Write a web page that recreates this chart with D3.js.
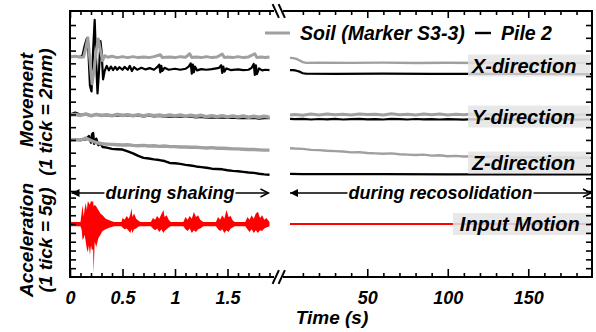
<!DOCTYPE html>
<html>
<head>
<meta charset="utf-8">
<script src="https://cdn.jsdelivr.net/npm/d3@7"></script>
<style>
  html, body { margin: 0; padding: 0; background: #fff; }
  svg { display: block; font-family: "Liberation Sans", Arial, sans-serif; font-weight: bold; font-style: italic; }
</style>
</head>
<body>
<svg id="chart" width="596" height="332"></svg>
<script>
// ---- data (movement in mm, acceleration in g, time in s) ----
// shaking phase, regular 0.05 s grid
var shakeT = [0,0.05,0.1,0.15,0.2,0.25,0.3,0.35,0.4,0.45,0.5,0.55,0.6,0.65,0.7,0.75,0.8,0.85,0.9,0.95,
  1,1.05,1.1,1.15,1.2,1.25,1.3,1.35,1.4,1.45,1.5,1.55,1.6,1.65,1.7,1.75,1.8,1.85,1.9];
var ySoilShake = [11.9,12.0,11.85,12.05,11.8,12.0,11.85,11.95,11.8,12.0,11.85,11.95,11.8,11.95,11.75,11.95,11.8,11.9,11.75,11.9,
  11.75,11.9,11.7,11.85,11.7,11.85,11.65,11.8,11.65,11.8,11.6,11.75,11.6,11.75,11.55,11.7,11.55,11.7,11.55];
var yPileShake = [12.0,12.3,11.95,12.0,11.85,11.95,11.8,11.9,11.8,11.85,11.75,11.85,11.75,11.8,11.7,11.8,11.7,11.75,11.65,11.7,
  11.6,11.7,11.6,11.65,11.55,11.6,11.5,11.55,11.5,11.5,11.45,11.5,11.4,11.45,11.4,11.45,11.35,11.4,11.4];
var zSoilShake = [8.0,8.05,7.95,8.3,7.9,7.6,7.4,7.35,7.3,7.25,7.2,7.25,7.15,7.1,7.15,7.05,7.1,7.0,7.05,6.95,
  6.95,6.9,6.9,6.85,6.85,6.8,6.75,6.8,6.7,6.7,6.65,6.6,6.6,6.55,6.5,6.5,6.45,6.4,6.4];

// bursty traces as [t, value]
var xSoilShake = [[0,21.0],[0.05,21.1],[0.1,20.95],[0.13,21.0],[0.15,22.4],[0.17,24.0],[0.19,20.5],[0.21,16.8],
  [0.23,19.0],[0.25,22.0],[0.27,23.8],[0.29,22.0],[0.31,20.4],[0.33,21.2],[0.36,20.95],[0.4,21.1],[0.45,20.9],
  [0.5,21.05],[0.55,20.9],[0.6,21.05],[0.65,20.9],[0.7,21.0],[0.75,20.9],[0.8,21.05],[0.86,21.35],[0.88,20.9],
  [0.95,21.0],[1.0,20.9],[1.05,21.05],[1.1,20.95],[1.14,21.5],[1.16,20.9],[1.2,21.0],[1.25,20.9],[1.3,21.05],
  [1.35,20.9],[1.4,21.0],[1.45,21.45],[1.47,20.9],[1.5,21.0],[1.55,20.9],[1.6,21.05],[1.65,20.9],[1.7,21.0],
  [1.76,21.5],[1.78,20.9],[1.82,21.0],[1.86,20.9],[1.9,21.0]];
var xPileShake = [[0,21.0],[0.1,21.0],[0.12,21.3],[0.14,22.8],[0.16,23.9],[0.175,22.0],[0.19,16.5],[0.205,15.6],
  [0.22,22.0],[0.235,26.8],[0.25,20.0],[0.262,15.3],[0.275,18.5],[0.29,23.5],[0.30,22.0],[0.315,17.5],[0.33,18.8],
  [0.35,19.6],[0.37,18.9],[0.39,19.5],[0.41,18.95],[0.43,19.45],[0.45,19.0],[0.47,19.4],[0.5,19.0],[0.52,19.45],
  [0.55,19.0],[0.57,19.6],[0.59,18.8],[0.61,19.4],[0.64,19.0],[0.68,19.3],[0.72,19.05],[0.76,19.25],[0.8,19.0],
  [0.83,19.4],[0.85,19.8],[0.86,18.6],[0.87,19.6],[0.88,18.8],[0.9,19.3],[0.94,19.0],[1.0,19.15],[1.05,19.0],
  [1.1,19.15],[1.13,19.5],[1.15,20.0],[1.16,18.4],[1.17,19.8],[1.18,18.6],[1.19,19.5],[1.21,18.9],[1.25,19.1],
  [1.3,19.0],[1.35,19.1],[1.42,19.3],[1.44,19.7],[1.45,18.5],[1.46,19.5],[1.47,18.7],[1.49,19.2],[1.53,18.95],
  [1.6,19.05],[1.65,18.95],[1.7,19.0],[1.73,19.3],[1.75,19.9],[1.76,18.2],[1.77,19.7],[1.78,18.3],[1.8,19.2],
  [1.83,18.9],[1.86,19.0],[1.9,18.95]];
var zPileShake = [[0,8.0],[0.1,8.05],[0.15,8.1],[0.18,8.6],[0.2,7.6],[0.21,8.9],[0.22,9.1],[0.23,7.4],[0.25,8.2],
  [0.27,7.2],[0.29,7.5],[0.31,6.9],[0.35,6.8],[0.4,6.6],[0.45,6.55],[0.5,6.5],[0.55,6.2],[0.6,5.9],[0.65,5.5],
  [0.7,5.2],[0.75,5.1],[0.8,4.95],[0.85,4.85],[0.9,4.7],[0.95,4.4],[1.0,4.35],[1.05,4.25],[1.1,4.1],[1.15,4.0],
  [1.2,3.85],[1.25,3.75],[1.3,3.65],[1.35,3.5],[1.4,3.45],[1.45,3.4],[1.5,3.25],[1.55,3.15],[1.6,3.1],[1.65,3.0],
  [1.7,2.9],[1.75,2.85],[1.8,2.7],[1.85,2.6],[1.9,2.55]];

// input motion envelope during shaking (g)
var accT = [0,0.10,0.11,0.12,0.13,0.14,0.15,0.16,0.17,0.18,0.19,0.20,0.21,0.22,0.225,0.235,0.25,0.27,0.29,0.31,0.34,0.38,0.42,
  0.49,0.50,0.52,0.54,0.56,0.575,0.585,0.595,0.61,0.63,0.65,0.67,
  0.77,0.79,0.81,0.83,0.85,0.87,0.89,0.90,0.92,0.94,0.96,
  1.08,1.10,1.12,1.14,1.16,1.18,1.20,1.22,1.24,1.27,
  1.39,1.41,1.43,1.45,1.47,1.49,1.51,1.53,1.55,1.57,
  1.67,1.69,1.71,1.73,1.75,1.77,1.79,1.81,1.83,1.85,1.87,1.90];
var accMax = [1.2,1.2,6,10.8,4,9,12,8,13,12,11,13.2,12.5,13,10,11,10,8,6,5,3,2,1.2,
  1.2,3.5,2.5,4.5,3,5.5,9,4,6,3,2,1.2,
  1.2,3.5,2.5,4.5,3,5.5,8,4,5,2.5,1.2,
  1.2,4,2.5,4.5,3,6.8,4,5,2.5,1.2,
  1.2,4,2.5,5,3,8,4,4.5,2,1.2,
  1.2,4,2.5,5,3,6,7,3.5,5,2.5,3.5,1.2];
var accMin = [-1.2,-1.2,-3,-9,-8,-6,-10,-14,-16,-12,-17.6,-12,-15,-14,-27.8,-10,-13,-8,-6,-4,-3,-2,-1.2,
  -1.2,-2,-3,-2.5,-4,-5,-3,-5,-3,-2.5,-1.5,-1.2,
  -1.2,-2.5,-3.5,-2.5,-4.5,-3,-5,-4,-3,-2,-1.2,
  -1.2,-3,-4,-2.5,-5,-3.5,-4.5,-3,-2.5,-1.2,
  -1.2,-3,-4,-3,-5,-3.5,-4.5,-2.5,-2,-1.2,
  -1.2,-3,-4.5,-3,-5,-3.5,-5,-3.5,-4,-2.5,-2,-1.2];

// reconsolidation phase, 5 s grid
var reconT = [2,5,10,15,20,25,30,35,40,45,50,55,60,65,70,75,80,85,90,95,100,105,110,115,120,125,130,135,
  140,145,150,155,160,165,170,175,180,185,189.6];
var ySoilRecon = [11.9,12.0,11.88,12.05,11.92,12.08,11.95,12.03,11.9,12.08,11.97,12.03,11.92,12.1,11.95,12.03,11.9,12.06,
  11.95,12.08,11.92,12.02,11.95,12.08,11.9,12.03,11.95,12.06,11.92,12.03,11.95,12.02,11.92,12.03,11.95,12.0,11.92,12.02,11.95];
var yPileRecon = [11.3,11.25,11.3,11.2,11.28,11.22,11.3,11.2,11.25,11.3,11.22,11.27,11.2,11.3,11.25,11.2,11.28,11.22,
  11.25,11.2,11.27,11.22,11.18,11.25,11.2,11.28,11.2,11.24,11.18,11.25,11.2,11.22,11.18,11.24,11.2,11.22,11.18,11.2,11.2];
var zSoilRecon = [6.7,6.65,6.6,6.45,6.4,6.3,6.25,6.2,6.05,6.1,5.95,5.9,5.85,5.9,5.75,5.7,5.65,5.7,5.55,5.6,
  5.45,5.5,5.4,5.45,5.35,5.4,5.3,5.35,5.3,5.25,5.35,5.25,5.3,5.2,5.3,5.25,5.2,5.25,5.2];
var xSoilRecon = [[2,20.85],[4,20.82],[6,20.7],[8,20.45],[10,20.2],[12,20.08],[20,20.12],[40,20.08],[60,20.12],
  [80,20.06],[100,20.1],[120,20.05],[140,20.1],[160,20.06],[189.6,20.08]];
var xPileRecon = [[2,18.95],[4,18.93],[6,18.85],[8,18.7],[10,18.45],[12,18.38],[30,18.36],[60,18.38],[90,18.34],
  [120,18.36],[150,18.33],[189.6,18.32]];
var zPileRecon = [[2,2.7],[10,2.66],[30,2.64],[60,2.65],[100,2.62],[140,2.62],[189.6,2.6]];
var accRecon = [[2,0],[189.6,0]];

// ticks and labels
var leftMajor = [0, 0.5, 1, 1.5];
var leftTickLabels = ["0", "0.5", "1", "1.5"];
var leftMinor = [0.1,0.2,0.3,0.4,0.6,0.7,0.8,0.9,1.1,1.2,1.3,1.4,1.6,1.7,1.8,1.9];
var rightMajor = [50, 100, 150];
var rightTickLabels = ["50", "100", "150"];
var rightMinor = [10,20,30,40,60,70,80,90,110,120,130,140,160,170,180];
var moveTicks = [0,2,4,6,8,10,12,14,16,18,20,22,24,26];
var accTicks = [-25,-20,-15,-10,-5,0,5,10,15];
var dirLabels = ["X-direction", "Y-direction", "Z-direction"];
var dirLabelMm = [19.65, 11.67, 4.45];

// ---- drawing ----
var svg = d3.select("#chart");
var GRAY = "#a0a0a0", RED = "#ff0000";

var xL = d3.scaleLinear().domain([0, 1.92]).range([70, 271.6]);
var xR = d3.scaleLinear().domain([2, 189.6]).range([290, 592]);
var yM = d3.scaleLinear().domain([-0.31, 28.2]).range([193, 11]);
var yA = d3.scaleLinear().domain([-30, 17.6]).range([277, 193]);

var lineL = d3.line().x(d => xL(d[0])).y(d => yM(d[1]));
var lineR = d3.line().x(d => xR(d[0])).y(d => yM(d[1]));

function trace(gen, data, color, w) {
  svg.append("path").datum(data)
    .attr("fill", "none").attr("stroke", color).attr("stroke-width", w)
    .attr("stroke-linejoin", "round").attr("d", gen);
}

// input motion
svg.append("path").datum(d3.zip(accT, accMax, accMin))
  .attr("fill", RED)
  .attr("d", d3.area().x(d => xL(d[0])).y0(d => yA(d[2])).y1(d => yA(d[1])));
svg.append("path").datum(accRecon)
  .attr("fill", "none").attr("stroke", RED).attr("stroke-width", 2)
  .attr("d", d3.line().x(d => xR(d[0])).y(d => yA(d[1])));

// pile (black) then soil (gray)
trace(lineL, xPileShake, "#000", 2.2);
trace(lineL, d3.zip(shakeT, yPileShake), "#000", 2.2);
trace(lineL, zPileShake, "#000", 2.4);
trace(lineR, xPileRecon, "#000", 2.2);
trace(lineR, d3.zip(reconT, yPileRecon), "#000", 2.2);
trace(lineR, zPileRecon, "#000", 2.2);

trace(lineL, xSoilShake, GRAY, 3);
trace(lineL, d3.zip(shakeT, ySoilShake), GRAY, 3.6);
trace(lineL, d3.zip(shakeT, zSoilShake), GRAY, 3.4);
trace(lineR, xSoilRecon, GRAY, 2.4);
trace(lineR, d3.zip(reconT, ySoilRecon), GRAY, 3);
trace(lineR, d3.zip(reconT, zSoilRecon), GRAY, 2.4);

// direction labels with light boxes
dirLabels.forEach(function (lab, i) {
  var cy = yM(dirLabelMm[i]);
  svg.append("rect").attr("x", xR(112.6)).attr("y", cy - 11).attr("width", 592 - xR(112.6) - 2).attr("height", 22)
    .attr("fill", "#e4e4e4").attr("opacity", 0.85);
  svg.append("text").attr("x", xR(115)).attr("y", cy + 7).attr("font-size", 20).text(lab);
});
var cyIn = yA(0);
svg.append("rect").attr("x", xR(103.2)).attr("y", cyIn - 11).attr("width", 592 - xR(103.2) - 2).attr("height", 22)
  .attr("fill", "#e4e4e4").attr("opacity", 0.85);
svg.append("text").attr("x", xR(107.5)).attr("y", cyIn + 7).attr("font-size", 20).text("Input Motion");

// phase arrows
var arrowY = yM(-0.31);
function arrow(x0, x1, label) {
  svg.append("line").attr("x1", x0).attr("x2", x1).attr("y1", arrowY).attr("y2", arrowY)
    .attr("stroke", "#000").attr("stroke-width", 1.4);
  svg.append("path").attr("d", "M" + x0 + "," + arrowY + "l8,-4l0,8z").attr("fill", "#000");
  svg.append("path").attr("d", "M" + (x1 - 8) + "," + (arrowY - 4) + "L" + x1 + "," + arrowY + "L" + (x1 - 8) + "," + (arrowY + 4))
    .attr("fill", "none").attr("stroke", "#000").attr("stroke-width", 1.4);
  var t = svg.append("text").attr("x", (x0 + x1) / 2).attr("y", arrowY + 5.5).attr("text-anchor", "middle")
    .attr("font-size", 18).text(label);
  var bb = t.node().getBBox();
  svg.insert("rect", function () { return t.node(); }).attr("x", bb.x - 1).attr("y", arrowY - 3).attr("width", bb.width + 2)
    .attr("height", 6).attr("fill", "#fff");
}
arrow(xL(0) + 1.5, xL(1.89), "during shaking");
arrow(xR(2), 591, "during recosolidation");

// legend
svg.append("line").attr("x1", 265).attr("x2", 290).attr("y1", 33).attr("y2", 33).attr("stroke", GRAY).attr("stroke-width", 3);
svg.append("text").attr("x", 300).attr("y", 39.5).attr("font-size", 19.5).text("Soil (Marker S3-3)");
svg.append("line").attr("x1", 475).attr("x2", 491).attr("y1", 33).attr("y2", 33).attr("stroke", "#000").attr("stroke-width", 2.4);
svg.append("text").attr("x", 501).attr("y", 39.5).attr("font-size", 19.5).text("Pile 2");

// axis ticks
function ticks(axisFn, scale, vals, size, tr) {
  svg.append("g").attr("transform", tr)
    .call(axisFn(scale).tickValues(vals).tickSizeInner(size).tickSizeOuter(0).tickFormat(""))
    .call(s => s.select(".domain").remove())
    .selectAll("line").attr("stroke", "#000").attr("stroke-width", 1.6);
}
ticks(d3.axisBottom, xL, leftMinor, -4, "translate(0,277)");
ticks(d3.axisBottom, xR, rightMinor, -4, "translate(0,277)");
ticks(d3.axisTop, xL, leftMinor, -4, "translate(0,11)");
ticks(d3.axisTop, xR, rightMinor, -4, "translate(0,11)");
ticks(d3.axisTop, xL, leftMajor, -7, "translate(0,11)");
ticks(d3.axisTop, xR, rightMajor, -7, "translate(0,11)");
ticks(d3.axisLeft, yM, moveTicks, -6, "translate(70,0)");
ticks(d3.axisLeft, yA, accTicks, -6, "translate(70,0)");
ticks(d3.axisRight, yM, moveTicks, -6, "translate(592,0)");
ticks(d3.axisRight, yA, accTicks, -6, "translate(592,0)");

function labelled(scale, vals, labels) {
  var g = svg.append("g").attr("transform", "translate(0,277)")
    .call(d3.axisBottom(scale).tickValues(vals).tickSizeInner(-8).tickSizeOuter(0).tickPadding(14)
      .tickFormat((d, i) => labels[i]))
    .attr("font-size", 18).attr("font-family", null);
  g.select(".domain").remove();
  g.selectAll("line").attr("stroke", "#000").attr("stroke-width", 1.6);
  g.selectAll("text").attr("fill", "#000");
}
labelled(xL, leftMajor, leftTickLabels);
labelled(xR, rightMajor, rightTickLabels);

// frame with axis break
var frame = [[70, 11, 70, 277], [592, 11, 592, 277], [70, 11, 273, 11], [284, 11, 592, 11],
  [70, 277, 273, 277], [284, 277, 592, 277],
  [273, 283, 278.5, 271], [279, 283, 284.5, 271], [273, 5, 278.5, 17], [279, 5, 284.5, 17]];
svg.selectAll(".frame").data(frame).enter().append("line")
  .attr("x1", d => d[0]).attr("y1", d => d[1]).attr("x2", d => d[2]).attr("y2", d => d[3])
  .attr("stroke", "#000").attr("stroke-width", 2).attr("stroke-linecap", "square");

// axis titles
svg.append("text").attr("x", 332).attr("y", 324).attr("text-anchor", "middle").attr("font-size", 19).text("Time (s)");
function vtitle(x, y, s) {
  svg.append("text").attr("transform", "translate(" + x + "," + y + ") rotate(-90)")
    .attr("text-anchor", "middle").attr("font-size", 19).text(s);
}
vtitle(33, 100, "Movement");
vtitle(51.5, 112, "(1 tick = 2mm)");
vtitle(33, 240, "Acceleration");
vtitle(51.5, 240, "(1 tick = 5g)");
</script>
</body>
</html>
